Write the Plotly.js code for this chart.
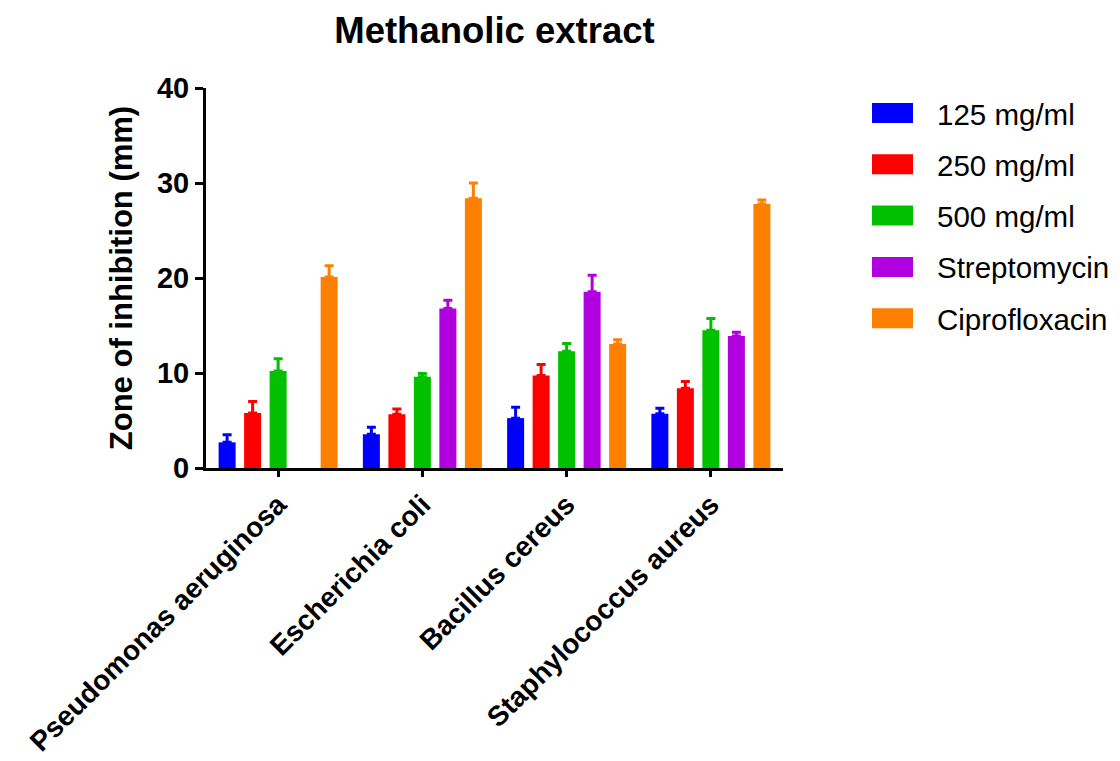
<!DOCTYPE html>
<html>
<head>
<meta charset="utf-8">
<script src="https://cdn.plot.ly/plotly-3.0.1.min.js"></script>
<style>html,body{margin:0;padding:0;background:#fff;}#chart{width:1120px;height:761px;}</style>
</head>
<body>
<div id="chart"></div>
<script>
var categories = ["Pseudomonas aeruginosa", "Escherichia coli", "Bacillus cereus", "Staphylococcus aureus"];
var seriesNames = ["125 mg/ml", "250 mg/ml", "500 mg/ml", "Streptomycin", "Ciprofloxacin"];
var seriesColors = ["#0000FF", "#FF0000", "#00C000", "#B000E0", "#FF8000"];
var v125 = [2.7, 3.55, 5.25, 5.7];
var e125 = [0.8, 0.75, 1.15, 0.6];
var v250 = [5.8, 5.65, 9.75, 8.4];
var e250 = [1.2, 0.55, 1.15, 0.7];
var v500 = [10.2, 9.6, 12.3, 14.5];
var e500 = [1.3, 0.35, 0.8, 1.25];
var vStrep = [null, 16.8, 18.55, 13.9];
var eStrep = [0, 0.85, 1.75, 0.4];
var vCipro = [20.1, 28.4, 13.05, 27.8];
var eCipro = [1.2, 1.6, 0.45, 0.4];
var yTicks = [0, 10, 20, 30, 40];

var values = [v125, v250, v500, vStrep, vCipro];
var errors = [e125, e250, e500, eStrep, eCipro];

var traces = values.map(function (vals, i) {
  return {
    type: "bar",
    name: seriesNames[i],
    x: categories,
    y: vals,
    marker: {color: seriesColors[i], line: {width: 0}},
    error_y: {
      type: "data", symmetric: false,
      array: errors[i],
      arrayminus: errors[i].map(function () { return 0; }),
      color: seriesColors[i], thickness: 3, width: 4.5
    },
    showlegend: false
  };
});

var L = 206, R = 783, T = 88, B = 468, W = 1120, H = 761;
function px(xp) { return (xp - L) / (R - L); }
function py(yp) { return (B - yp) / (B - T); }

var shapes = [], annotations = [];
seriesNames.forEach(function (n, i) {
  var yc = 113 + i * 51.3;
  shapes.push({type: "rect", xref: "paper", yref: "paper",
    x0: px(872), x1: px(913), y0: py(yc + 10), y1: py(yc - 10),
    fillcolor: seriesColors[i], line: {width: 0}});
  annotations.push({xref: "paper", yref: "paper", x: px(935), y: py(yc + 1),
    xanchor: "left", yanchor: "middle", showarrow: false, text: n,
    font: {family: "Liberation Sans, Arial, sans-serif", size: 29.5, color: "#000"}});
});

var layout = {
  width: W, height: H,
  margin: {l: L, r: W - R, t: T, b: H - B, pad: 0},
  paper_bgcolor: "#fff", plot_bgcolor: "#fff",
  barmode: "group", bargap: 0.116, bargroupgap: 0.333,
  title: {text: "<b>Methanolic extract</b>", x: 0.5, xref: "paper", xanchor: "center",
    y: 1 - 30 / H, yref: "container", yanchor: "middle",
    font: {family: "Liberation Sans, Arial, sans-serif", size: 36.5, color: "#000"}},
  xaxis: {
    type: "category", range: [-0.5, 3.5], tickangle: -45,
    showline: true, linecolor: "#000", linewidth: 3,
    ticks: "outside", ticklen: 6, tickwidth: 3, tickcolor: "#000",
    showgrid: false, zeroline: false,
    tickfont: {family: "Liberation Sans, Arial, sans-serif", size: 28, color: "#000", weight: "bold"}
  },
  yaxis: {
    range: [0, 40], tickvals: yTicks, ticktext: yTicks.map(String),
    showline: true, linecolor: "#000", linewidth: 3,
    ticks: "outside", ticklen: 8, tickwidth: 3, tickcolor: "#000",
    showgrid: false, zeroline: false,
    tickfont: {family: "Liberation Sans, Arial, sans-serif", size: 29, color: "#000", weight: "bold"},
    title: {text: "<b>Zone of inhibition (mm)</b>", standoff: 16,
      font: {family: "Liberation Sans, Arial, sans-serif", size: 31, color: "#000"}}
  },
  shapes: shapes,
  annotations: annotations,
  showlegend: false
};

Plotly.newPlot("chart", traces, layout, {displayModeBar: false, staticPlot: true});
</script>
</body>
</html>
